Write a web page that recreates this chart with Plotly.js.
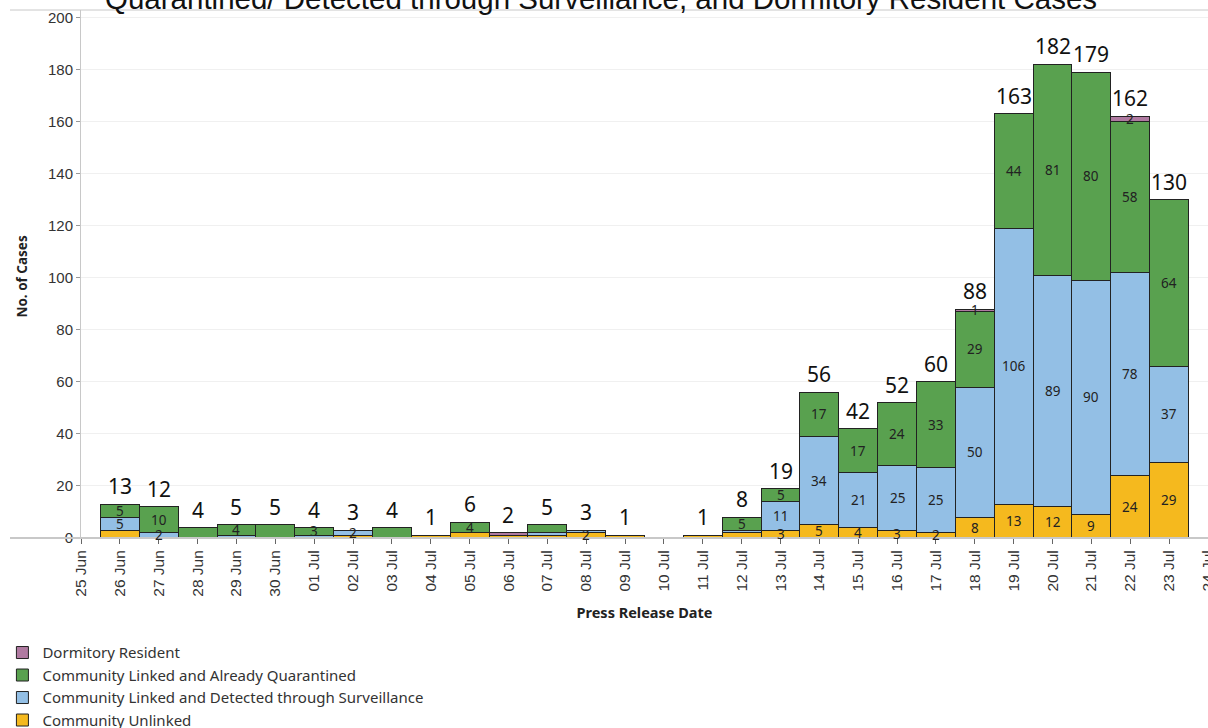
<!DOCTYPE html>
<html>
<head>
<meta charset="utf-8">
<script src="https://cdn.plot.ly/plotly-3.0.1.min.js"></script>
<style>html,body{margin:0;padding:0;background:#fff;}#chart{width:1208px;height:728px;}</style>
</head>
<body>
<div id="chart"></div>
<script>
// Axis categories (the axis runs from 25 Jun to 24 Jul)
const axisDates = ["25 Jun","26 Jun","27 Jun","28 Jun","29 Jun","30 Jun","01 Jul","02 Jul","03 Jul","04 Jul","05 Jul","06 Jul","07 Jul","08 Jul","09 Jul","10 Jul","11 Jul","12 Jul","13 Jul","14 Jul","15 Jul","16 Jul","17 Jul","18 Jul","19 Jul","20 Jul","21 Jul","22 Jul","23 Jul","24 Jul"];
// Press release dates with bars
const dates = ["26 Jun","27 Jun","28 Jun","29 Jun","30 Jun","01 Jul","02 Jul","03 Jul","04 Jul","05 Jul","06 Jul","07 Jul","08 Jul","09 Jul","10 Jul","11 Jul","12 Jul","13 Jul","14 Jul","15 Jul","16 Jul","17 Jul","18 Jul","19 Jul","20 Jul","21 Jul","22 Jul","23 Jul"];
const unlinked     = [3,0,0,0,0,0,1,0,1,2,1,1,2,1,0,1,2,3,5,4,3,2,8,13,12,9,24,29];
const surveillance = [5,2,0,1,0,1,2,0,0,0,0,1,1,0,0,0,1,11,34,21,25,25,50,106,89,90,78,37];
const quarantined  = [5,10,4,4,5,3,0,4,0,4,0,3,0,0,0,0,5,5,17,17,24,33,29,44,81,80,58,64];
const dormitory    = [0,0,0,0,0,0,0,0,0,0,1,0,0,0,0,0,0,0,0,0,0,0,1,0,0,0,2,0];
// dates whose segment value label is shown in the reference
const labelledUnlinked     = ["08 Jul","13 Jul","14 Jul","15 Jul","16 Jul","17 Jul","18 Jul","19 Jul","20 Jul","21 Jul","22 Jul","23 Jul"];
const labelledSurveillance = ["26 Jun","27 Jun","02 Jul","13 Jul","14 Jul","15 Jul","16 Jul","17 Jul","18 Jul","19 Jul","20 Jul","21 Jul","22 Jul","23 Jul"];
const labelledQuarantined  = ["26 Jun","27 Jun","29 Jun","01 Jul","05 Jul","12 Jul","13 Jul","14 Jul","15 Jul","16 Jul","17 Jul","18 Jul","19 Jul","20 Jul","21 Jul","22 Jul","23 Jul"];
const labelledDormitory    = ["18 Jul","22 Jul"];

const seriesNames = ["Community Unlinked","Community Linked and Detected through Surveillance","Community Linked and Already Quarantined","Dormitory Resident"];
const seriesValues = [unlinked, surveillance, quarantined, dormitory];
const seriesLabelled = [labelledUnlinked, labelledSurveillance, labelledQuarantined, labelledDormitory];
const seriesColors = ["#f5b91e","#93bfe5","#59a14f","#b07aa1"];

const traces = seriesNames.map((name, i) => ({
  type: "bar",
  name: name,
  x: dates,
  y: seriesValues[i],
  width: 1,
  marker: {color: seriesColors[i], line: {color: "#222", width: 1}},
  hoverinfo: "x+y+name"
}));

const annotations = [];
// segment labels
const cum = dates.map(() => 0);
seriesValues.forEach((vals, i) => {
  vals.forEach((v, j) => {
    if (v > 0 && seriesLabelled[i].includes(dates[j])) {
      annotations.push({x: dates[j], y: cum[j] + v / 2, xref: "x", yref: "y", text: String(v),
        showarrow: false, font: {family: "Noto Sans, Lato, sans-serif", size: 13.5, color: "#222"}});
    }
    cum[j] += v;
  });
});
// totals
cum.forEach((t, j) => {
  if (t > 0) {
    annotations.push({x: dates[j], y: t, xref: "x", yref: "y", text: String(t), showarrow: false,
      yanchor: "bottom", yshift: 2, font: {family: "Noto Sans, Lato, sans-serif", size: 21, color: "#111"}});
  }
});
// title (second line, partly cut off at the top)
annotations.push({x: 0.461, y: 1.022, xref: "paper", yref: "paper", xanchor: "center", yanchor: "middle",
  text: "Quarantined/ Detected through Surveillance, and Dormitory Resident Cases", showarrow: false,
  font: {family: "Liberation Sans, Arial, sans-serif", size: 29.5, color: "#111"}});
// y-axis title
annotations.push({x: -0.0524, y: 0.495, xref: "paper", yref: "paper", xanchor: "center", yanchor: "middle",
  text: "<b>No. of Cases</b>", textangle: -90, showarrow: false,
  font: {family: "Noto Sans, Lato, sans-serif", size: 13.5, color: "#222"}});

const layout = {
  width: 1208, height: 728,
  margin: {l: 81, r: 0, t: 10, b: 190, pad: 0, autoexpand: false},
  paper_bgcolor: "#fff", plot_bgcolor: "#fff",
  barmode: "stack", bargap: 0,
  showlegend: true,
  legend: {orientation: "v", x: 0.002, xref: "container", xanchor: "left", y: 0.126, yref: "container", yanchor: "top", traceorder: "reversed",
    font: {family: "Noto Sans, Lato, sans-serif", size: 15, color: "#333"}, itemclick: false},
  xaxis: {
    type: "category", categoryorder: "array", categoryarray: axisDates, automargin: false,
    range: [0, 29], tickangle: -90, ticks: "outside", ticklen: 5, tickcolor: "#666",
    showgrid: false, zeroline: false, showline: false,
    tickfont: {family: "Liberation Sans, Arial, sans-serif", size: 15.5, color: "#333"},
    title: {text: "<b>Press Release Date</b>", standoff: 12, font: {family: "Noto Sans, Lato, sans-serif", size: 14.5, color: "#222"}}
  },
  yaxis: {
    range: [0, 202.9], automargin: false, tickvals: [0,20,40,60,80,100,120,140,160,180,200], ticks: "outside", ticklen: 4, tickcolor: "#999",
    showgrid: true, gridcolor: "#f0f0f0", zeroline: false, showline: true, linecolor: "#c8c8c8",
    tickfont: {family: "Liberation Sans, Arial, sans-serif", size: 15, color: "#333"}
  },
  shapes: [
    {type: "line", xref: "paper", yref: "paper", x0: -0.063, x1: 1, y0: 1, y1: 1, line: {color: "#c8c8c8", width: 1}},
    {type: "line", xref: "paper", yref: "paper", x0: -0.063, x1: 1, y0: 0, y1: 0, line: {color: "#c8c8c8", width: 2}}
  ],
  annotations: annotations
};

Plotly.newPlot("chart", traces, layout, {displayModeBar: false, staticPlot: true});
</script>
</body>
</html>
